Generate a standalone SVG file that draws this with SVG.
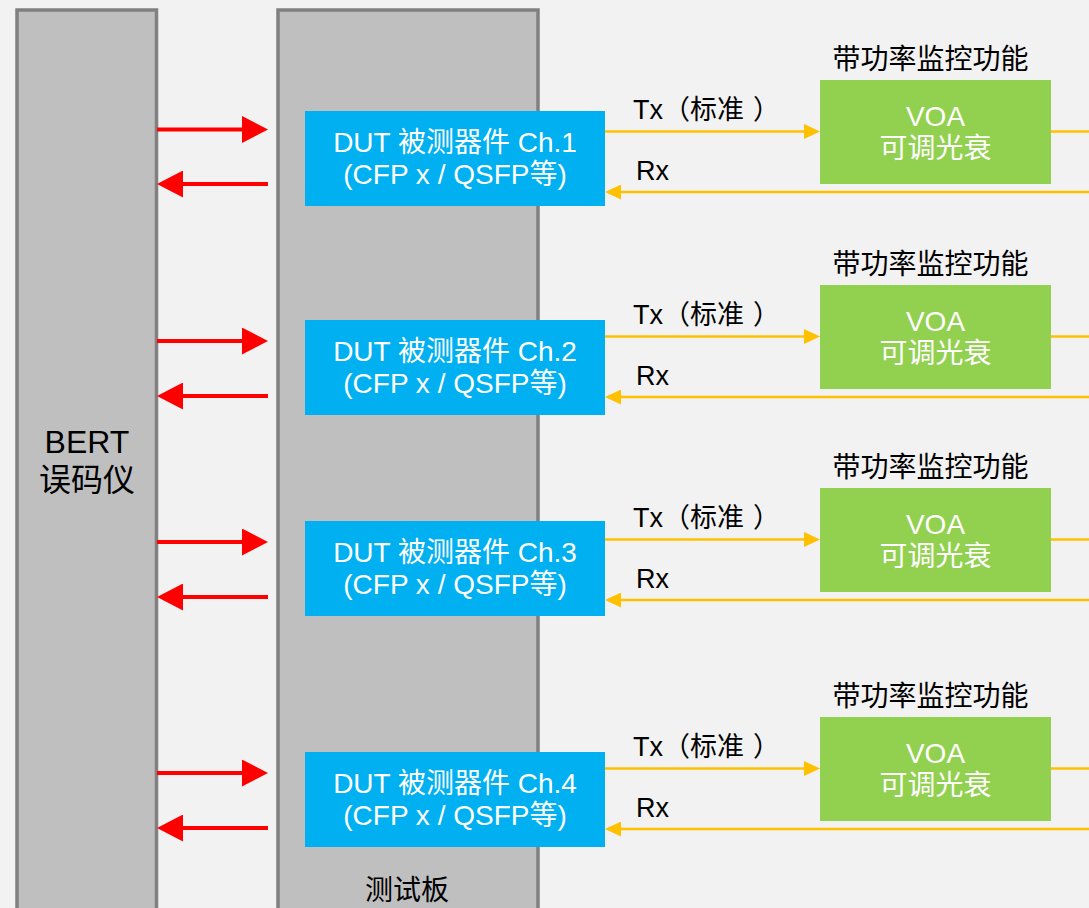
<svg xmlns="http://www.w3.org/2000/svg" width="1089" height="908" viewBox="0 0 1089 908">
  <defs>
    <style>
      .txt { font-family: "Liberation Sans", "Noto Sans CJK SC", sans-serif; }
      .blk { fill: #000000; }
      .wht { fill: #FFFFFF; }
      .mid { text-anchor: middle; }
      .panel { fill: #BFBFBF; stroke: #808080; stroke-width: 3.5; }
      .dut { fill: #00B0F0; }
      .voa { fill: #92D050; }
      .red { stroke: #FF0000; stroke-width: 4; fill: none; }
      .yel { stroke: #FFC000; stroke-width: 2.5; fill: none; }
    </style>
    <marker id="redHead" markerUnits="userSpaceOnUse" markerWidth="26" markerHeight="27" refX="0" refY="13.5" orient="auto">
      <path d="M0,0 L26,13.5 L0,27 Z" fill="#FF0000"/>
    </marker>
    <marker id="yelHead" markerUnits="userSpaceOnUse" markerWidth="16" markerHeight="15" refX="0" refY="7.5" orient="auto">
      <path d="M0,0 L16,7.5 L0,15 Z" fill="#FFC000"/>
    </marker>
  </defs>

  <rect x="0" y="0" width="1089" height="908" fill="#F2F2F2"/>

  <g id="bert">
    <rect class="panel" x="17" y="10" width="139.5" height="920"/>
    <text class="txt blk mid" x="87" y="453" font-size="32">BERT</text>
    <text class="txt blk mid" x="87" y="491" font-size="32">误码仪</text>
  </g>

  <g id="board">
    <rect class="panel" x="278" y="10" width="260" height="920"/>
    <text class="txt blk mid" x="407" y="900" font-size="28">测试板</text>
  </g>

  <g id="connectors">
    <!-- red BERT <-> DUT -->
    <line class="red" x1="157" y1="129.5" x2="242" y2="129.5" marker-end="url(#redHead)"/>
    <line class="red" x1="268" y1="184" x2="183" y2="184" marker-end="url(#redHead)"/>
    <line class="red" x1="157" y1="341" x2="242" y2="341" marker-end="url(#redHead)"/>
    <line class="red" x1="268" y1="396" x2="183" y2="396" marker-end="url(#redHead)"/>
    <line class="red" x1="157" y1="542" x2="242" y2="542" marker-end="url(#redHead)"/>
    <line class="red" x1="268" y1="597" x2="183" y2="597" marker-end="url(#redHead)"/>
    <line class="red" x1="157" y1="773" x2="242" y2="773" marker-end="url(#redHead)"/>
    <line class="red" x1="268" y1="828" x2="183" y2="828" marker-end="url(#redHead)"/>

    <!-- yellow Tx / Rx -->
    <line class="yel" x1="605" y1="131.5" x2="804" y2="131.5" marker-end="url(#yelHead)"/>
    <line class="yel" x1="1051" y1="131.5" x2="1089" y2="131.5"/>
    <line class="yel" x1="1089" y1="192" x2="621" y2="192" marker-end="url(#yelHead)"/>

    <line class="yel" x1="605" y1="336.5" x2="804" y2="336.5" marker-end="url(#yelHead)"/>
    <line class="yel" x1="1051" y1="336.5" x2="1089" y2="336.5"/>
    <line class="yel" x1="1089" y1="397" x2="621" y2="397" marker-end="url(#yelHead)"/>

    <line class="yel" x1="605" y1="539.5" x2="804" y2="539.5" marker-end="url(#yelHead)"/>
    <line class="yel" x1="1051" y1="539.5" x2="1089" y2="539.5"/>
    <line class="yel" x1="1089" y1="600" x2="621" y2="600" marker-end="url(#yelHead)"/>

    <line class="yel" x1="605" y1="768.5" x2="804" y2="768.5" marker-end="url(#yelHead)"/>
    <line class="yel" x1="1051" y1="768.5" x2="1089" y2="768.5"/>
    <line class="yel" x1="1089" y1="829" x2="621" y2="829" marker-end="url(#yelHead)"/>

    <text class="txt blk" x="633" y="119" font-size="27">Tx（标准<tspan dx="9">）</tspan></text>
    <text class="txt blk" x="636" y="180" font-size="27">Rx</text>
    <text class="txt blk" x="633" y="324" font-size="27">Tx（标准<tspan dx="9">）</tspan></text>
    <text class="txt blk" x="636" y="385" font-size="27">Rx</text>
    <text class="txt blk" x="633" y="527" font-size="27">Tx（标准<tspan dx="9">）</tspan></text>
    <text class="txt blk" x="636" y="588" font-size="27">Rx</text>
    <text class="txt blk" x="633" y="756" font-size="27">Tx（标准<tspan dx="9">）</tspan></text>
    <text class="txt blk" x="636" y="817" font-size="27">Rx</text>
  </g>

  <g id="dut1">
    <rect class="dut" x="305" y="111" width="300" height="95"/>
    <text class="txt wht mid" x="455" y="152" font-size="28">DUT 被测器件 Ch.1</text>
    <text class="txt wht mid" x="455" y="184" font-size="28">(CFP x / QSFP等)</text>
  </g>
  <g id="dut2">
    <rect class="dut" x="305" y="320" width="300" height="95"/>
    <text class="txt wht mid" x="455" y="361" font-size="28">DUT 被测器件 Ch.2</text>
    <text class="txt wht mid" x="455" y="393" font-size="28">(CFP x / QSFP等)</text>
  </g>
  <g id="dut3">
    <rect class="dut" x="305" y="521" width="300" height="95"/>
    <text class="txt wht mid" x="455" y="562" font-size="28">DUT 被测器件 Ch.3</text>
    <text class="txt wht mid" x="455" y="594" font-size="28">(CFP x / QSFP等)</text>
  </g>
  <g id="dut4">
    <rect class="dut" x="305" y="752" width="300" height="95"/>
    <text class="txt wht mid" x="455" y="793" font-size="28">DUT 被测器件 Ch.4</text>
    <text class="txt wht mid" x="455" y="825" font-size="28">(CFP x / QSFP等)</text>
  </g>

  <g id="voa1">
    <text class="txt blk mid" x="930.5" y="69" font-size="28">带功率监控功能</text>
    <rect class="voa" x="820" y="80" width="231" height="104"/>
    <text class="txt wht mid" x="935.5" y="126" font-size="28">VOA</text>
    <text class="txt wht mid" x="935.5" y="158" font-size="28">可调光衰</text>
  </g>
  <g id="voa2">
    <text class="txt blk mid" x="930.5" y="274" font-size="28">带功率监控功能</text>
    <rect class="voa" x="820" y="285" width="231" height="104"/>
    <text class="txt wht mid" x="935.5" y="331" font-size="28">VOA</text>
    <text class="txt wht mid" x="935.5" y="363" font-size="28">可调光衰</text>
  </g>
  <g id="voa3">
    <text class="txt blk mid" x="930.5" y="477" font-size="28">带功率监控功能</text>
    <rect class="voa" x="820" y="488" width="231" height="104"/>
    <text class="txt wht mid" x="935.5" y="534" font-size="28">VOA</text>
    <text class="txt wht mid" x="935.5" y="566" font-size="28">可调光衰</text>
  </g>
  <g id="voa4">
    <text class="txt blk mid" x="930.5" y="706" font-size="28">带功率监控功能</text>
    <rect class="voa" x="820" y="717" width="231" height="104"/>
    <text class="txt wht mid" x="935.5" y="763" font-size="28">VOA</text>
    <text class="txt wht mid" x="935.5" y="795" font-size="28">可调光衰</text>
  </g>
</svg>
